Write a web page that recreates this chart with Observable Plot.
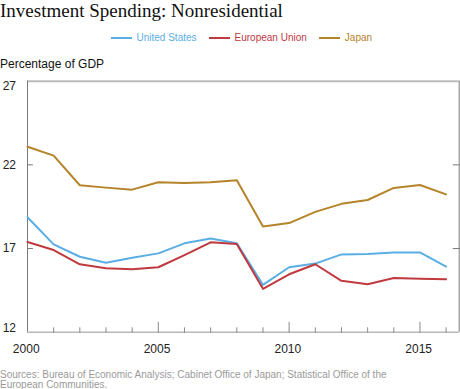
<!DOCTYPE html>
<html>
<head>
<meta charset="utf-8">
<script src="https://cdn.jsdelivr.net/npm/d3@7"></script>
<script src="https://cdn.jsdelivr.net/npm/@observablehq/plot@0.6"></script>
<style>
  html, body { margin: 0; padding: 0; background: #fff; }
  #wrap { position: relative; width: 460px; height: 389px; overflow: hidden; font-family: "Liberation Sans", Arial, sans-serif; }
  #title { position: absolute; left: 0; top: 0.5px; font-family: "Liberation Serif", Georgia, serif; font-size: 19px; line-height: 20px; color: #111; white-space: nowrap; }
  #legend { position: absolute; left: 111px; top: 33px; font-size: 10px; line-height: 10px; display: flex; white-space: nowrap; }
  .item { display: flex; align-items: center; margin-right: 12.5px; }
  .sw { display: inline-block; width: 21px; height: 2px; margin-right: 4.5px; }
  #ylab { position: absolute; left: 0; top: 58px; font-size: 12px; line-height: 12px; color: #111; white-space: nowrap; }
  #chart { position: absolute; left: 0; top: 72px; }
  #source { position: absolute; left: 0; top: 369.5px; font-size: 10px; line-height: 10.3px; color: #9a9a9a; white-space: nowrap; }
</style>
</head>
<body>
<div id="wrap">
  <div id="title">Investment Spending: Nonresidential</div>
  <div id="legend"></div>
  <div id="ylab">Percentage of GDP</div>
  <div id="chart"></div>
  <div id="source">Sources: Bureau of Economic Analysis; Cabinet Office of Japan; Statistical Office of the<br>European Communities.</div>
</div>
<script>
const years = [2000, 2001, 2002, 2003, 2004, 2005, 2006, 2007, 2008, 2009, 2010, 2011, 2012, 2013, 2014, 2015, 2016];
const unitedStates = [18.87, 17.25, 16.51, 16.15, 16.45, 16.71, 17.31, 17.6, 17.31, 14.83, 15.88, 16.1, 16.65, 16.67, 16.77, 16.77, 15.92];
const europeanUnion = [17.39, 16.91, 16.06, 15.82, 15.76, 15.88, 16.61, 17.37, 17.27, 14.59, 15.46, 16.06, 15.07, 14.87, 15.24, 15.2, 15.17];
const japan = [23.08, 22.55, 20.78, 20.64, 20.52, 20.96, 20.92, 20.96, 21.08, 18.32, 18.52, 19.19, 19.67, 19.9, 20.62, 20.8, 20.24];
const seriesNames = ["United States", "European Union", "Japan"];
const seriesColors = ["#5aaee4", "#c0393f", "#b5832a"];
const xLabelTicks = [2000, 2005, 2010, 2015];
const minorYears = [2001, 2002, 2003, 2004, 2006, 2007, 2008, 2009, 2011, 2012, 2013, 2014, 2016];
const majorYears = [2005, 2010, 2015];

const seriesValues = [unitedStates, europeanUnion, japan];
const data = [];
seriesNames.forEach((name, i) => {
  years.forEach((yr, j) => data.push({series: name, year: yr, value: seriesValues[i][j]}));
});

// legend
const legend = document.getElementById("legend");
seriesNames.forEach((name, i) => {
  const it = document.createElement("div");
  it.className = "item";
  const sw = document.createElement("span");
  sw.className = "sw";
  sw.style.background = seriesColors[i];
  const tx = document.createElement("span");
  tx.textContent = name;
  tx.style.color = seriesColors[i];
  it.appendChild(sw); it.appendChild(tx);
  legend.appendChild(it);
});

// plain tick shape for vectors (no arrowhead)
const tickShape = {draw(context, l) { context.moveTo(0, 0); context.lineTo(0, -l); }};

const xMin = 2000, xMax = 2016.5;
const chart = Plot.plot({
  width: 460,
  height: 290,
  marginTop: 8.7,
  marginBottom: 30.3,
  marginLeft: 27,
  marginRight: 1.3,
  style: {fontFamily: "'Liberation Sans', Arial, sans-serif", fontSize: "12px", color: "#222", background: "#fff", overflow: "visible"},
  x: {domain: [xMin, xMax], axis: null, label: null},
  y: {domain: [12, 27], axis: null, label: null},
  color: {domain: seriesNames, range: seriesColors},
  marks: [
    Plot.ruleY([27], {stroke: "#bdbdbd", strokeWidth: 2}),
    Plot.ruleY([12], {stroke: "#b8b8b8", strokeWidth: 1.5}),
    Plot.ruleX([xMin], {stroke: "#7a7a7a", strokeWidth: 1}),
    Plot.ruleX([xMax], {stroke: "#7a7a7a", strokeWidth: 1}),
    Plot.vector(minorYears, {x: d => d, y: () => 12, length: 4.5, rotate: 0, anchor: "start", shape: tickShape, stroke: "#8a8a8a", strokeWidth: 1}),
    Plot.vector(majorYears, {x: d => d, y: () => 12, length: 10, rotate: 0, anchor: "start", shape: tickShape, stroke: "#8a8a8a", strokeWidth: 1}),
    Plot.vector([17, 22], {x: () => xMin, y: d => d, length: 5, rotate: 90, anchor: "start", shape: tickShape, stroke: "#7a7a7a", strokeWidth: 1}),
    Plot.vector([17, 22], {x: () => xMax, y: d => d, length: 6, rotate: -90, anchor: "start", shape: tickShape, stroke: "#7a7a7a", strokeWidth: 1}),
    Plot.axisY([17, 22], {anchor: "left", tickSize: 0, tickPadding: 11.5, label: null, fill: "#222", fontSize: 12}),
    Plot.axisY([27], {anchor: "left", tickSize: 0, tickPadding: 11.5, dy: 4.6, label: null, fill: "#222", fontSize: 12}),
    Plot.axisY([12], {anchor: "left", tickSize: 0, tickPadding: 11.5, dy: -3.7, label: null, fill: "#222", fontSize: 12}),
    Plot.axisX(xLabelTicks, {anchor: "bottom", tickSize: 0, tickPadding: 12, dx: -1.3, label: null, tickFormat: d => String(d), fill: "#222", fontSize: 12}),
    Plot.line(data, {x: "year", y: "value", z: "series", stroke: "series", strokeWidth: 2, strokeLinejoin: "round"})
  ]
});
document.getElementById("chart").appendChild(chart);
</script>
</body>
</html>
